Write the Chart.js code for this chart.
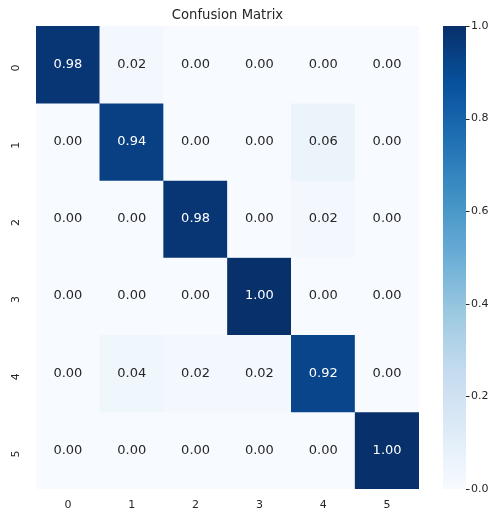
<!DOCTYPE html>
<html>
<head>
<meta charset="utf-8">
<script src="https://cdn.jsdelivr.net/npm/chart.js@4.4.0/dist/chart.umd.min.js"></script>
<style>
  html, body { margin: 0; padding: 0; background: #fff; }
  #wrap { width: 495px; height: 513px; position: relative; }
</style>
</head>
<body>
<div id="wrap"><canvas id="cm"></canvas></div>
<script>
const colLabels = ['0', '1', '2', '3', '4', '5'];
const rowLabels = ['0', '1', '2', '3', '4', '5'];
const row0 = [0.98, 0.02, 0.00, 0.00, 0.00, 0.00];
const row1 = [0.00, 0.94, 0.00, 0.00, 0.06, 0.00];
const row2 = [0.00, 0.00, 0.98, 0.00, 0.02, 0.00];
const row3 = [0.00, 0.00, 0.00, 1.00, 0.00, 0.00];
const row4 = [0.00, 0.04, 0.02, 0.02, 0.92, 0.00];
const row5 = [0.00, 0.00, 0.00, 0.00, 0.00, 1.00];
const matrix = [row0, row1, row2, row3, row4, row5];
const colorbarTicks = [0, 0.2, 0.4, 0.6, 0.8, 1.0];

// matplotlib "Blues"
const blues = ['#f7fbff', '#deebf7', '#c6dbef', '#9ecae1', '#6baed6', '#4292c6', '#2171b5', '#08519c', '#08306b'];

function hexToRgb(h) {
  return [parseInt(h.slice(1, 3), 16), parseInt(h.slice(3, 5), 16), parseInt(h.slice(5, 7), 16)];
}

function bluesColor(v) {
  const t = Math.max(0, Math.min(1, v)) * (blues.length - 1);
  const i = Math.min(Math.floor(t), blues.length - 2);
  const f = t - i;
  const a = hexToRgb(blues[i]), b = hexToRgb(blues[i + 1]);
  const c = a.map((x, k) => Math.round(x + (b[k] - x) * f));
  return `rgb(${c[0]},${c[1]},${c[2]})`;
}

const FONT = 'DejaVu Sans';
const TEXT = '#262626';

// one floating-bar dataset per matrix row
const datasets = matrix.map((row, r) => ({
  label: 'row ' + rowLabels[r],
  data: row.map(() => [r, r + 1]),
  backgroundColor: row.map(v => bluesColor(v)),
  borderWidth: 0,
  barPercentage: 1,
  categoryPercentage: 1,
  grouped: false,
  yAxisID: 'y',
}));

// axis sizes fixed so the grid lands where the reference has it
function fixBox(size) {
  return s => {
    if (s.isHorizontal()) s.height = size; else s.width = size;
    s.paddingTop = 0; s.paddingBottom = 0; s.paddingLeft = 0; s.paddingRight = 0;
  };
}

// annotations, colorbar and title drawn on top of the chart
const heatmapExtras = {
  id: 'heatmapExtras',
  afterDatasetsDraw(chart) {
    const { ctx, chartArea, scales } = chart;
    const x = scales.x, y = scales.y, cb = scales.cb;

    // cell values
    ctx.save();
    ctx.font = `13px "${FONT}"`;
    ctx.textAlign = 'center';
    ctx.textBaseline = 'middle';
    matrix.forEach((row, r) => {
      row.forEach((v, c) => {
        ctx.fillStyle = v > 0.5 ? '#ffffff' : TEXT;
        ctx.fillText(v.toFixed(2), x.getPixelForValue(c), y.getPixelForValue(r + 0.5));
      });
    });

    // colorbar
    const cbLeft = 443, cbRight = 466;
    const top = cb.getPixelForValue(1), bottom = cb.getPixelForValue(0);
    const grad = ctx.createLinearGradient(0, bottom, 0, top);
    for (let i = 0; i <= 32; i++) grad.addColorStop(i / 32, bluesColor(i / 32));
    ctx.fillStyle = grad;
    ctx.fillRect(cbLeft, top, cbRight - cbLeft, bottom - top);
    ctx.strokeStyle = TEXT;
    ctx.lineWidth = 1;
    colorbarTicks.forEach(t => {
      const py = Math.round(cb.getPixelForValue(t)) + 0.5;
      ctx.beginPath();
      ctx.moveTo(cbRight, py);
      ctx.lineTo(cbRight + 3.5, py);
      ctx.stroke();
    });

    // title centred over the heatmap
    ctx.fillStyle = TEXT;
    ctx.font = `13.2px "${FONT}"`;
    ctx.textBaseline = 'middle';
    ctx.fillText('Confusion Matrix', (chartArea.left + chartArea.right) / 2, 16);
    ctx.restore();
  }
};

new Chart(document.getElementById('cm'), {
  type: 'bar',
  data: { labels: colLabels, datasets },
  options: {
    responsive: true,
    maintainAspectRatio: false,
    animation: false,
    layout: { padding: { top: 26, left: 0, right: 0, bottom: 0 } },
    plugins: {
      legend: { display: false },
      tooltip: { enabled: false },
    },
    scales: {
      x: {
        grid: { display: false, drawTicks: false },
        border: { display: false },
        ticks: { color: TEXT, font: { family: FONT, size: 11 }, padding: 10 },
        afterFit: fixBox(24),
      },
      y: {
        type: 'linear',
        min: 0,
        max: 6,
        reverse: true,
        grid: { display: false, drawTicks: false },
        border: { display: false },
        afterBuildTicks: s => { s.ticks = rowLabels.map((_, i) => ({ value: i + 0.5 })); },
        ticks: {
          color: TEXT,
          font: { family: FONT, size: 11 },
          minRotation: 90,
          maxRotation: 90,
          padding: 20,
          callback: v => rowLabels[Math.floor(v)],
        },
        afterFit: fixBox(36),
      },
      cb: {
        type: 'linear',
        position: 'right',
        min: 0,
        max: 1,
        grid: { display: false, drawTicks: false },
        border: { display: false },
        afterBuildTicks: s => { s.ticks = colorbarTicks.map(v => ({ value: v })); },
        ticks: {
          color: TEXT,
          font: { family: FONT, size: 11 },
          padding: 52,
          callback: v => v.toFixed(1),
        },
        afterFit: fixBox(76),
      },
    },
  },
  plugins: [heatmapExtras],
});
</script>
</body>
</html>
